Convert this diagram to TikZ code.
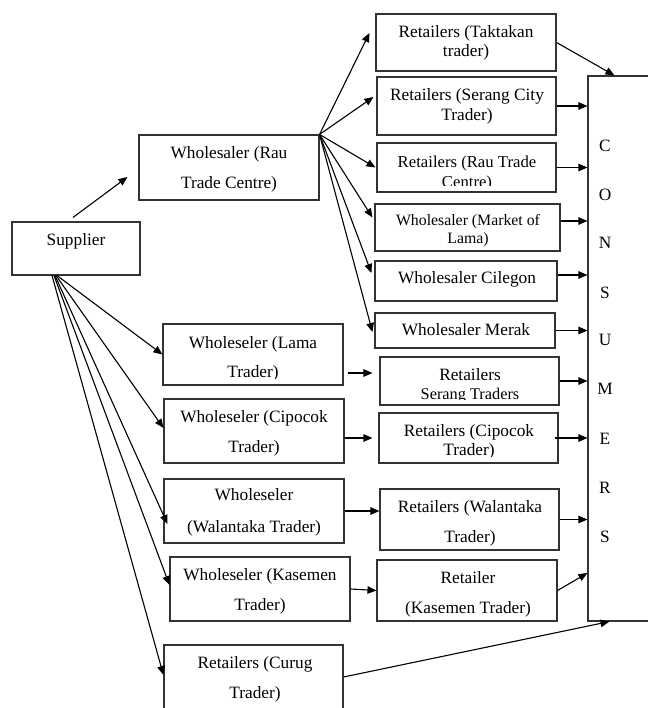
\documentclass[tikz,border=0pt]{standalone}
\usepackage{fontspec}
\setmainfont{Liberation Serif}
\usetikzlibrary{arrows.meta,calc}
\begin{document}
\begin{tikzpicture}[x=1pt,y=-1pt,
 bxs/.style={draw=black!80, line width=1.1pt, inner sep=0pt, rectangle},
 txt/.style={inner sep=0pt, anchor=mid, yshift=-3pt, font=\fontsize{17.3}{20}\selectfont},
 arr/.style={line width=1.1pt, -{Triangle[length=9pt,width=7.5pt]}}]
\useasboundingbox (0,0) rectangle (647,708);
% boxes
\node[bxs, minimum width=128pt, minimum height=53pt] (sup) at (76,248.5) {};
\node[bxs, minimum width=180pt, minimum height=65pt] (rau) at (229,167.5) {};
\node[bxs, minimum width=180pt, minimum height=57pt] (tak) at (466,42.5) {};
\node[bxs, minimum width=179pt, minimum height=58pt] (ser) at (466.5,106) {};
\node[bxs, minimum width=179pt, minimum height=49pt] (rtc) at (466.5,167.5) {};
\node[bxs, minimum width=185pt, minimum height=47pt] (mol) at (467.5,227.5) {};
\node[bxs, minimum width=182pt, minimum height=40pt] (cil) at (466,281) {};
\node[bxs, minimum width=180pt, minimum height=35pt] (mer) at (465,330.5) {};
\node[bxs, minimum width=90pt, minimum height=545pt] (con) at (633,348.5) {};
\node[bxs, minimum width=180pt, minimum height=61pt] (lama) at (253,354.5) {};
\node[bxs, minimum width=180pt, minimum height=64pt] (cip) at (254,431) {};
\node[bxs, minimum width=180pt, minimum height=64pt] (wal) at (254,511) {};
\node[bxs, minimum width=180pt, minimum height=64pt] (kas) at (260,589) {};
\node[bxs, minimum width=179pt, minimum height=80pt] (cur) at (253.5,685) {};
\node[bxs, minimum width=179pt, minimum height=48pt] (rst) at (469.5,381) {};
\node[bxs, minimum width=179pt, minimum height=50pt] (rcp) at (468.5,438) {};
\node[bxs, minimum width=179pt, minimum height=61pt] (rwa) at (469.5,519.5) {};
\node[bxs, minimum width=180pt, minimum height=61pt] (rka) at (467,590.5) {};
% texts
\node[txt] (tsup) at (76,240) {Supplier};
\node[txt] (trau1) at (229,153) {Wholesaler (Rau};
\node[txt] (trau2) at (229,183) {Trade Centre)};
\node[txt] (ttak1) at (466,32) {Retailers (Taktakan};
\node[txt] (ttak2) at (466,51) {trader)};
\node[txt] (tser1) at (467,95) {Retailers (Serang City};
\node[txt] (tser2) at (467,115) {Trader)};
\begin{scope}
\clip (377,143) rectangle (556,185.5);
\node[txt, font=\fontsize{16.7}{20}\selectfont] (trtc1) at (467,162) {Retailers (Rau Trade};
\node[txt, font=\fontsize{16.7}{20}\selectfont] (trtc2) at (467,182) {Centre)};
\end{scope}
\node[txt, font=\fontsize{15.8}{20}\selectfont] (tmol1) at (468,220) {Wholesaler (Market of};
\node[txt, font=\fontsize{15.8}{20}\selectfont] (tmol2) at (468,238) {Lama)};
\node[txt] (tcil) at (467,278) {Wholesaler Cilegon};
\node[txt] (tmer) at (466,330) {Wholesaler Merak};
\begin{scope}
\clip (380,357) rectangle (559,399.5);
\node[txt] (trst1) at (470,375) {Retailers};
\node[txt, font=\fontsize{16.3}{20}\selectfont] (trst2) at (470,394) {Serang Traders};
\end{scope}
\begin{scope}
\clip (379,413) rectangle (558,456.7);
\node[txt] (trcp1) at (469,431) {Retailers (Cipocok};
\node[txt] (trcp2) at (469,450) {Trader)};
\end{scope}
\node[txt] (trwa1) at (470,507) {Retailers (Walantaka};
\node[txt] (trwa2) at (470,537) {Trader)};
\node[txt] (trka1) at (468,578) {Retailer};
\node[txt] (trka2) at (468,608) {(Kasemen Trader)};
\begin{scope}
\clip (163,324) rectangle (343,378);
\node[txt] (tlama1) at (253,343) {Wholeseler (Lama};
\node[txt] (tlama2) at (253,372) {Trader)};
\end{scope}
\node[txt] (tcip1) at (254,417) {Wholeseler (Cipocok};
\node[txt] (tcip2) at (254,447) {Trader)};
\node[txt] (twal1) at (254,495) {Wholeseler};
\node[txt] (twal2) at (254,527) {(Walantaka Trader)};
\node[txt] (tkas1) at (260,575) {Wholeseler (Kasemen};
\node[txt] (tkas2) at (260,605) {Trader)};
\node[txt] (tcur1) at (255,663) {Retailers (Curug};
\node[txt] (tcur2) at (255,693) {Trader)};
% consumers letters
\node[txt] (c1) at (605,146) {C};
\node[txt] (c2) at (605,195) {O};
\node[txt] (c3) at (605,243) {N};
\node[txt] (c4) at (605,293) {S};
\node[txt] (c5) at (605,340) {U};
\node[txt] (c6) at (605,389) {M};
\node[txt] (c7) at (605,439) {E};
\node[txt] (c8) at (605,488) {R};
\node[txt] (c9) at (605,537) {S};
% arrows: supplier to Rau
\draw[arr] ([xshift=-3pt,yshift=4pt]sup.north) -- ([xshift=-11pt,yshift=-9.5pt]rau.west);
% Rau fan
\draw[arr] (rau.north east) -- ([xshift=-6pt,yshift=9.5pt]tak.west);
\draw[arr] (rau.north east) -- ([xshift=-3pt,yshift=9pt]ser.west);
\draw[arr] (rau.north east) -- ([xshift=-1pt]rtc.west);
\draw[arr] (rau.north east) -- ([xshift=-2pt,yshift=10pt]mol.west);
\draw[arr] (rau.north east) -- ([xshift=-3pt,yshift=8pt]cil.west);
\draw[arr] (rau.north east) -- ([xshift=-2pt,yshift=-1.5pt]mer.west);
% to consumers
\draw[arr] (tak.east) -- ([xshift=27pt]con.north west);
\draw[arr] (ser.east) -- (ser.east -| con.west);
\draw[arr] (rtc.east) -- (rtc.east -| con.west);
\coordinate (m1) at ([yshift=6.5pt]mol.east);
\draw[arr] (m1) -- (m1 -| con.west);
\coordinate (ci1) at ([yshift=6pt]cil.east);
\draw[arr] (ci1) -- (ci1 -| con.west);
\draw[arr] (mer.east) -- (mer.east -| con.west);
\draw[arr] (rst.east) -- (rst.east -| con.west);
\draw[arr] ([xshift=-4pt]rcp.east) -- (rcp.east -| con.west);
\draw[arr] (rwa.east) -- (rwa.east -| con.west);
\coordinate (k1) at ([yshift=17.5pt]rka.east);
\draw[arr] (rka.east) -- (k1 -| con.west);
\draw[arr] ([yshift=8pt]cur.east) -- ([xshift=22pt]con.south west);
% wholesaler to retailer
\coordinate (l1) at ([xshift=4pt,yshift=-18.5pt]lama.east);
\coordinate (l2) at ([xshift=-7pt]rst.west);
\draw[arr] (l1) -- (l1 -| l2);
\draw[arr] (cip.east |- rcp.west) -- ([xshift=-6pt]rcp.west);
\draw[arr] (wal.east) -- (wal.east -| rwa.west);
\draw[arr] (kas.east) -- (rka.west);
% supplier fan
\draw[arr] ([xshift=-19pt]sup.south) -- (lama.west);
\draw[arr] ([xshift=-20pt]sup.south) -- ([yshift=3pt]cip.west);
\draw[arr] ([xshift=-21pt]sup.south) -- ([xshift=4pt,yshift=-13pt]wal.west);
\draw[arr] ([xshift=-22pt]sup.south) -- ([yshift=4pt]kas.west);
\draw[arr] ([xshift=-24pt]sup.south) -- ([yshift=10pt]cur.west);
\end{tikzpicture}
\end{document}
